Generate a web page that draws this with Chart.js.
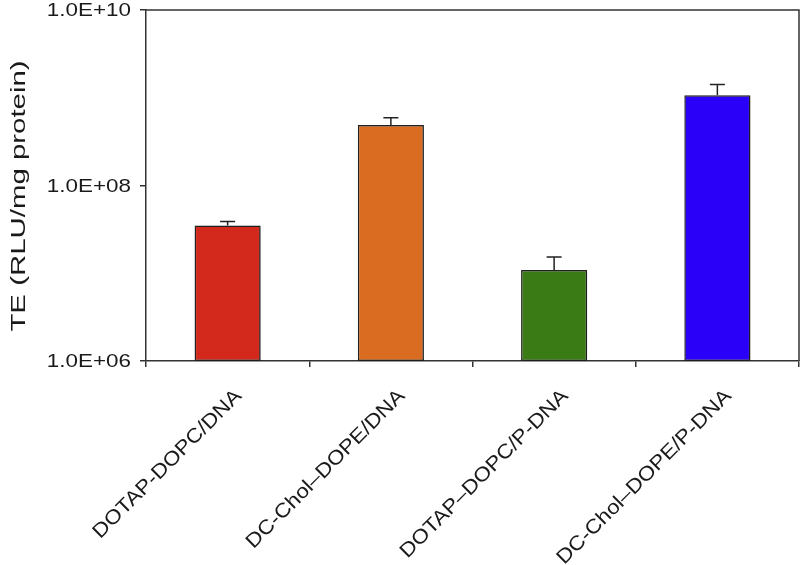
<!DOCTYPE html>
<html>
<head>
<meta charset="utf-8">
<script src="https://cdn.jsdelivr.net/npm/chart.js@4/dist/chart.umd.min.js"></script>
<style>
    html, body { margin: 0; padding: 0; background: #fff; }
    #wrap { width: 800px; height: 565px; position: relative; }
</style>
</head>
<body>
<div id="wrap"><canvas id="te-chart"></canvas></div>
<script>
"use strict";

// values (RLU/mg protein)
const formulations = ["DOTAP-DOPC/DNA", "DC-Chol\u2013DOPE/DNA", "DOTAP\u2013DOPC/P-DNA", "DC-Chol\u2013DOPE/P-DNA"];
const teMean = [3.5e7, 4.9e8, 1.09e7, 1.07e9];
const teUpper = [3.9e7, 5.9e8, 1.53e7, 1.42e9];   // top of each error bar
const barColors = ["#d2291c", "#d96c20", "#3b7b15", "#2a00f8"];
const yTickValues = [1e6, 1e8, 1e10];
const yTitle = "TE (RLU/mg protein)";

const AXIS_COLOR = "#333";
const TEXT_COLOR = "#1a1a1a";
const FONT = "'Liberation Sans', Arial, Helvetica, sans-serif";
// the source figure's lettering is stretched along the baseline
const STRETCH = 1.18;
const LABEL_STRETCH = 1.12;

function sciLabel(v) {
    const exp = Math.round(Math.log10(v));
    const mant = v / Math.pow(10, exp);
    return mant.toFixed(1) + "E+" + String(exp).padStart(2, "0");
}

// error bars: stem + cap above each bar
const errorBars = {
    id: "errorBars",
    afterDatasetsDraw(chart) {
        const ctx = chart.ctx;
        const yScale = chart.scales.y;
        const meta = chart.getDatasetMeta(0);
        ctx.save();
        ctx.strokeStyle = "#222";
        ctx.lineWidth = 1.5;
        meta.data.forEach(function (bar, i) {
            const yTop = yScale.getPixelForValue(teUpper[i]);
            ctx.beginPath();
            ctx.moveTo(bar.x, bar.y);
            ctx.lineTo(bar.x, yTop);
            ctx.moveTo(bar.x - 7.5, yTop);
            ctx.lineTo(bar.x + 7.5, yTop);
            ctx.stroke();
        });
        ctx.restore();
    }
};

// soft shadow behind the bars, like the original
const barShadow = {
    id: "barShadow",
    beforeDatasetsDraw(chart) {
        const ctx = chart.ctx;
        ctx.save();
        ctx.shadowColor = "rgba(0,0,0,0.22)";
        ctx.shadowOffsetX = 2;
        ctx.shadowOffsetY = 1;
        ctx.shadowBlur = 3;
    },
    afterDatasetsDraw(chart) {
        chart.ctx.restore();
    }
};

// top/right frame, tick labels, axis title and slanted category labels
const frameAndText = {
    id: "frameAndText",
    afterDraw(chart) {
        const ctx = chart.ctx;
        const area = chart.chartArea;
        const xScale = chart.scales.x;
        const yScale = chart.scales.y;

        ctx.save();
        ctx.strokeStyle = AXIS_COLOR;
        ctx.lineWidth = 1.5;
        ctx.beginPath();
        ctx.moveTo(area.left, area.top);
        ctx.lineTo(area.right, area.top);
        ctx.lineTo(area.right, area.bottom);
        ctx.stroke();

        ctx.fillStyle = TEXT_COLOR;

        // y tick labels
        yTickValues.forEach(function (v) {
            const y = yScale.getPixelForValue(v);
            ctx.save();
            ctx.translate(area.left - 15, y + 1);
            ctx.scale(STRETCH, 1);
            ctx.font = "19px " + FONT;
            ctx.textAlign = "right";
            ctx.textBaseline = "middle";
            ctx.fillText(sciLabel(v), 0, 0);
            ctx.restore();
        });

        // y title
        ctx.save();
        ctx.translate(25, 196);
        ctx.rotate(-Math.PI / 2);
        ctx.scale(1.4, 1);
        ctx.font = "21px " + FONT;
        ctx.textAlign = "center";
        ctx.textBaseline = "alphabetic";
        ctx.fillText(yTitle, 0, 0);
        ctx.restore();

        // category labels, rotated 45deg
        formulations.forEach(function (label, i) {
            const x = xScale.getPixelForValue(i);
            ctx.save();
            ctx.translate(x + 15, area.bottom + 36);
            ctx.rotate(-Math.PI / 4);
            ctx.scale(LABEL_STRETCH, 1);
            ctx.font = "20px " + FONT;
            ctx.textAlign = "right";
            ctx.textBaseline = "alphabetic";
            ctx.fillText(label, 0, 0);
            ctx.restore();
        });
        ctx.restore();
    }
};

const ctx = document.getElementById("te-chart").getContext("2d");

new Chart(ctx, {
    type: "bar",
    data: {
        labels: formulations,
        datasets: [{
            data: teMean,
            backgroundColor: barColors,
            borderColor: "#222",
            borderWidth: 1.5,
            borderSkipped: false,
            categoryPercentage: 1,
            barPercentage: 0.405
        }]
    },
    options: {
        responsive: true,
        maintainAspectRatio: false,
        animation: false,
        layout: {padding: {top: 10, right: 1, left: 0, bottom: 0}},
        plugins: {
            legend: {display: false},
            tooltip: {enabled: false}
        },
        scales: {
            x: {
                grid: {
                    offset: true,
                    drawOnChartArea: false,
                    drawTicks: true,
                    tickLength: 6,
                    color: AXIS_COLOR,
                    lineWidth: 1.5
                },
                border: {display: true, color: AXIS_COLOR, width: 1.5},
                ticks: {display: false},
                afterFit: function (scale) {
                    scale.height = 204;
                }
            },
            y: {
                type: "logarithmic",
                min: 1e6,
                max: 1e10,
                afterBuildTicks: function (scale) {
                    scale.ticks = yTickValues.map(v => ({value: v}));
                },
                afterFit: function (scale) {
                    scale.width = 146;
                    scale.paddingTop = 0;
                    scale.paddingBottom = 0;
                },
                grid: {
                    drawOnChartArea: false,
                    drawTicks: true,
                    tickLength: 6,
                    color: AXIS_COLOR,
                    lineWidth: 1.5
                },
                border: {display: true, color: AXIS_COLOR, width: 1.5},
                ticks: {display: false}
            }
        }
    },
    plugins: [barShadow, errorBars, frameAndText]
});
</script>
</body>
</html>
